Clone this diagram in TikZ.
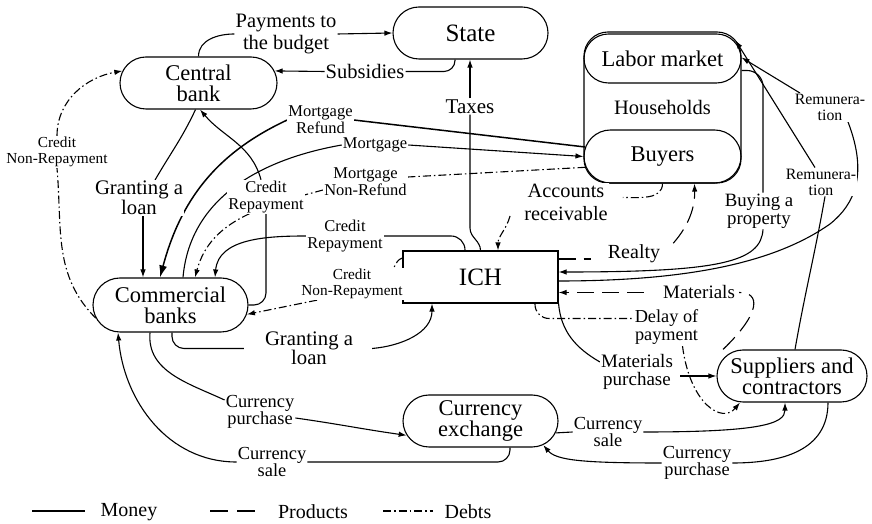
\documentclass[tikz,border=0pt]{standalone}
\usepackage{fontspec}
\setmainfont{Liberation Serif}
\usetikzlibrary{arrows.meta,shapes.misc}

\pgfdeclarelayer{background}
\pgfsetlayers{background,main}

\tikzset{
  block/.style={rounded rectangle, draw, line width=1.1pt, inner sep=0pt,
    align=center, font=\fontsize{22.5}{21}\selectfont},
  lbl/.style={align=center, inner sep=1pt, fill=white,
    font=\fontsize{20.5}{22}\selectfont},
  lblsmall/.style={lbl, font=\fontsize{16.5}{17}\selectfont},
  lbltiny/.style={lbl, font=\fontsize{15.3}{16}\selectfont},
  lblcur/.style={lbl, font=\fontsize{18.4}{17.5}\selectfont},
  lblmid/.style={lbl, font=\fontsize{19}{18}\selectfont},
  money/.style={line width=1.1pt},
  prod/.style={line width=1.1pt, dash pattern=on 17pt off 8pt},
  debt/.style={line width=1.1pt, dash pattern=on 8pt off 3pt on 1.5pt off 3pt},
  arr/.style={-{Latex[length=8pt,width=5.5pt]}},
}

\begin{document}
\begin{tikzpicture}[x=1pt,y=1pt]
\useasboundingbox (0,0) rectangle (872,524);

% ---------- main blocks ----------
\node[block, minimum width=155pt, minimum height=52pt,
  font=\fontsize{25}{25}\selectfont] (state) at (470.5,491) {State};
\node[block, minimum width=157pt, minimum height=52pt] (cbank) at (198.5,441) {Central\\bank};
\node[draw, line width=1.1pt, rounded corners=24pt, minimum width=157pt,
  minimum height=151pt, inner sep=0pt] (hh) at (662.5,416.5) {};
\node[block, minimum width=157pt, minimum height=49pt] (labor) at (662.5,465.5) {Labor market};
\node[block, minimum width=157pt, minimum height=53pt] (buyers) at (662.5,367.5) {Buyers};
\node[font=\fontsize{20.5}{20}\selectfont] (hhtext) at (662.5,416.5) {Households};
\node[draw, line width=1.1pt, minimum width=155pt, minimum height=52pt, inner sep=0pt,
  font=\fontsize{25}{25}\selectfont] (ich) at (480.5,247) {ICH};
\node[block, minimum width=155pt, minimum height=54pt] (combank) at (170.5,219) {Commercial\\banks};
\node[block, minimum width=155pt, minimum height=52pt] (cex) at (480.5,103) {Currency\\exchange};
\node[block, minimum width=150pt, minimum height=52pt] (supp) at (792,148) {Suppliers and\\contractors};

% ---------- flow labels ----------
\node[lbl] (lpay) at (286,490) {Payments to\\the budget};
\node[lbl] (lsub) at (365,452.5) {Subsidies};
\node[lbl, font=\fontsize{21}{21}\selectfont] (ltax) at (470,417.5) {Taxes};
\node[lblsmall] (lmr) at (320.5,404) {Mortgage\\Refund};
\node[lblsmall] (lmort) at (375,379) {Mortgage};
\node[lblsmall] (lmnr) at (365.5,342) {Mortgage\\Non-Refund};
\node[lblsmall] (lcr1) at (266,327) {Credit\\Repayment};
\node[lbl, font=\fontsize{20.7}{19.5}\selectfont] (lgl1) at (139,326) {Granting a\\loan};
\node[lbltiny] (lcnr1) at (57,372) {Credit\\Non-Repayment};
\node[lblsmall] (lcr2) at (345,288) {Credit\\Repayment};
\node[lbltiny] (lcnr2) at (352,240) {Credit\\Non-Repayment};
\node[lbl, font=\fontsize{20.7}{19.5}\selectfont] (lgl2) at (309,175.5) {Granting a\\loan};
\node[lblcur] (lcp1) at (260,112) {Currency\\purchase};
\node[lblcur] (lcs1) at (272,62) {Currency\\sale};
\node[lblcur] (lcs2) at (608,92) {Currency\\sale};
\node[lblcur] (lcp2) at (697,61) {Currency\\purchase};
\node[lblmid] (lmp) at (637,152) {Materials\\purchase};
\node[lbl, font=\fontsize{18.3}{18}\selectfont] (ldp) at (666.5,196.5) {Delay of\\payment};
\node[lblmid] (lmat) at (699,231.5) {Materials};
\node[lbl, font=\fontsize{20}{20}\selectfont] (lrealty) at (634,270.5) {Realty};
\node[lbl, font=\fontsize{20.3}{23}\selectfont] (lar) at (566,321.5) {Accounts\\receivable};
\node[lbl, font=\fontsize{18.8}{18}\selectfont] (lbp) at (759,313) {Buying a\\property};
\node[lbl, font=\fontsize{15.8}{16}\selectfont] (lrem1) at (830,416.5) {Remunera-\\tion};
\node[lbl, font=\fontsize{15.8}{16}\selectfont] (lrem2) at (821,342) {Remunera-\\tion};

\coordinate (taxbend) at (470,296);

% ---------- connectors ----------
\begin{pgfonlayer}{background}
% state and central bank
\draw[money] (cbank.north) to[out=90,in=180] (lpay.west);
\draw[money,arr] (lpay.east) -- (state.west);
\draw[money,rounded corners=11pt] ([xshift=-15.5pt]state.south) |- (lsub.east);
\draw[money,arr] (lsub.west) -- (cbank.9);
\draw[money] (ich.north) to[out=90,in=-90] (taxbend) -- (ltax.south);
\draw[money,arr] (ltax.north) -- (ltax.north |- state.south);

% mortgages
\draw[line width=1.5pt] (buyers.173) -- (lmr.east);
\draw[line width=1.5pt,-{Latex[length=12pt,width=8pt]}] (lmr.west)
  to[out=205,in=75] ([xshift=-10.5pt]combank.north);
\draw[money] ([xshift=12.5pt]combank.north) to[out=85,in=190] (lmort.west);
\draw[money,arr] (lmort.east) -- (buyers.west);
\draw[debt] (buyers.188) -- ([yshift=5pt]lmnr.east);
\draw[debt,arr] ([yshift=-8pt]lmnr.west) to[out=195,in=75] ([xshift=24.5pt]combank.north);

% central bank and commercial banks
\draw[money,rounded corners=12pt] (combank.east) -| (lcr1.south);
\draw[money,arr] ([xshift=-5pt]lcr1.north) to[out=105,in=-50] ([xshift=1.5pt]cbank.south);
\draw[money] ([xshift=-3pt]cbank.south) to[out=-115,in=60] ([xshift=16pt]lgl1.north);
\draw[money,arr] ([xshift=4pt]lgl1.south) -- ([xshift=4pt]lgl1.south |- combank.north);
\draw[debt] (combank.190) to[out=135,in=-85] (lcnr1.south);
\draw[debt,arr] (lcnr1.north) to[out=90,in=190] (cbank.171);

% ICH and commercial banks
\draw[money,rounded corners=14pt] ([xshift=-15.5pt]ich.north) |- (lcr2.east);
\draw[money,arr] (lcr2.west) to[out=180,in=85] ([xshift=44.5pt]combank.north);
\draw[debt] ([yshift=19pt]ich.west) to[out=195,in=60] ([xshift=-10pt]lcnr2.north east);
\draw[debt,arr] ([xshift=-35pt]lcnr2.south) -- (combank.-7);
\draw[money,rounded corners=12pt] ([xshift=1.5pt]combank.south) |- ([xshift=-20pt]lgl2.west);
\draw[money,arr] ([xshift=18pt]lgl2.east) to[out=5,in=-90] ([xshift=-48.5pt]ich.south);

% currency exchange
\draw[money] ([xshift=-20.5pt]combank.south) to[out=-95,in=155] ([yshift=12pt]lcp1.west);
\draw[money,arr] ([yshift=-6pt]lcp1.east) to[out=-8,in=172] (cex.191);
\draw[money,rounded corners=12pt] ([xshift=29.5pt]cex.south) |- (lcs1.east);
\draw[money,arr] (lcs1.west) to[out=180,in=-85] ([xshift=-52.5pt]combank.south);
\draw[money] (cex.-9) -- (lcs2.west);
\draw[money,arr] (lcs2.east) .. controls (760,92) and (785,100) .. ([xshift=-7pt]supp.south);
\draw[money] ([xshift=36pt]supp.south) to[out=-90,in=0,looseness=1.1] (lcp2.east);
\draw[money,arr] (lcp2.west) .. controls (580,61) and (556,64) .. (cex.-21);

% ICH and suppliers
\draw[money] (ich.south east) to[out=-85,in=150] ([yshift=10pt]lmp.west);
\draw[money,arr] ([xshift=6pt,yshift=-4pt]lmp.east) -- (supp.west);
\draw[debt,rounded corners=14pt] ([xshift=54.5pt]ich.south) |- ([yshift=9pt]ldp.west);
\draw[debt,arr] ([xshift=16pt]ldp.south) .. controls (690,120) and (722,100) .. ([xshift=-52pt]supp.south);
\draw[prod] ([xshift=-69pt]supp.north) .. controls (762,212) and (760,232) .. ([xshift=3pt]lmat.east);
\draw[prod,arr] ([xshift=-18pt]lmat.west) -- (lmat.west -| ich.east);

% ICH and households
\draw[prod] ([yshift=18pt]ich.east) -- ([xshift=-16pt,yshift=-5.5pt]lrealty.west);
\draw[prod,arr] ([xshift=12pt]lrealty.north east) .. controls (690,300) and (695,318) .. ([xshift=32pt]buyers.south);
\draw[debt] (buyers.south) to[out=-90,in=0] ([xshift=14pt,yshift=5pt]lar.east);
\draw[debt,arr] ([xshift=-56pt,yshift=6pt]lar.south) to[out=-105,in=90] ([xshift=17.5pt]ich.north);
\draw[money,rounded corners=16pt] ([yshift=-12pt]labor.east) -| ([xshift=4pt]lbp.north);
\draw[money,arr] ([xshift=4pt]lbp.south) .. controls (761,262) and (720,252) .. ([yshift=5pt]ich.east);

% remuneration
\draw[money] ([yshift=-4pt]ich.east) .. controls (700,243) and (780,265) .. (830,300)
  .. controls (855,320) and (868,350) .. ([xshift=18pt]lrem1.south);
\draw[money,arr] ([xshift=-30pt]lrem1.north) -- ([yshift=1pt]labor.east);
\draw[money] ([xshift=3pt]supp.north) to[out=80,in=-100] ([xshift=4pt]lrem2.south);
\draw[money,arr] ([xshift=-6pt]lrem2.north) -- ([xshift=-6pt,yshift=-9pt]hh.north east);
\end{pgfonlayer}

% ---------- legend ----------
\draw[money] (32,13) -- (85,13);
\node[font=\fontsize{20}{20}\selectfont] (lgmoney) at (129,12) {Money};
\draw[prod, dash pattern=on 18pt off 9pt] (210,13) -- (255,13);
\node[font=\fontsize{20}{20}\selectfont] (lgprod) at (313,12) {Products};
\draw[debt] (383,13) -- (433,13);
\node[font=\fontsize{20}{20}\selectfont] (lgdebt) at (468,12) {Debts};
\end{tikzpicture}
\end{document}
